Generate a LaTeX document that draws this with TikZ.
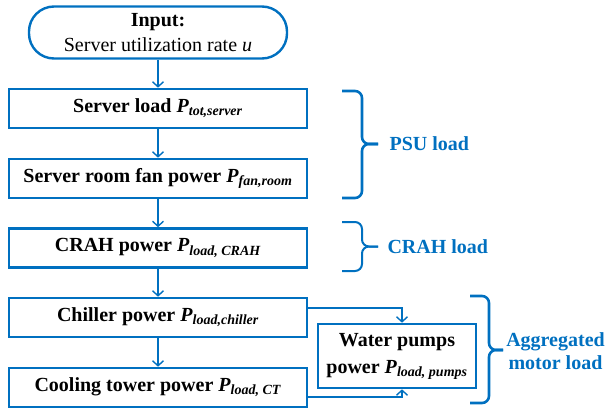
\documentclass[tikz,border=0pt]{standalone}
\usepackage{fontspec}
\setmainfont{Liberation Serif}
\usepackage{xcolor}
\usepackage{tikz}
\usetikzlibrary{arrows.meta}
\definecolor{lineblue}{RGB}{0,112,192}

\begin{document}
\begin{tikzpicture}[x=1pt,y=-1pt,>={Straight Barb[length=5pt,width=11pt]},
  box/.style={draw=lineblue,line width=2.6pt,minimum width=298pt,minimum height=39pt,inner sep=1pt,font=\fontsize{20}{25}\selectfont\bfseries},
  flow/.style={->,draw=lineblue,line width=1.4pt},
  brace/.style={draw=lineblue,line width=2.6pt,rounded corners=7pt},
  tag/.style={text=lineblue,font=\fontsize{20}{23}\selectfont\bfseries,anchor=west}]
  \useasboundingbox (0,0) rectangle (606,410);
  \node[box,rounded corners=25pt,minimum width=258pt,minimum height=52pt,line width=2.4pt,align=center] (input) at (158,32.5) {Input:\\\mdseries Server utilization rate \textit{u}};
  \node[box] (srv) at (158,108.5) {Server load \textit{P}\textsubscript{\textit{tot,server}}};
  \node[box] (fan) at (158,178.5) {Server room fan power \textit{P}\textsubscript{\textit{fan,room}}};
  \node[box] (crah) at (158,248) {CRAH power \textit{P}\textsubscript{\textit{load, CRAH}}};
  \node[box] (chiller) at (158,317.5) {Chiller power \textit{P}\textsubscript{\textit{load,chiller}}};
  \node[box] (ct) at (158,387.5) {Cooling tower power \textit{P}\textsubscript{\textit{load, CT}}};
  \node[box,minimum width=158pt,minimum height=64pt,align=center,font=\fontsize{20}{27}\selectfont\bfseries] (pumps) at (397,356) {Water pumps\\power \textit{P}\textsubscript{\textit{load, pumps}}};
  \draw[flow] (input) -- (srv);
  \draw[flow] (srv) -- (fan);
  \draw[flow] (fan) -- (crah);
  \draw[flow] (crah) -- (chiller);
  \draw[flow] (chiller) -- (ct);
  \draw[flow] ([yshift=9.5pt]chiller.east) -| ([xshift=5pt]pumps.north);
  \draw[flow] ([yshift=-9.5pt]ct.east) -| ([xshift=5pt]pumps.south);
  % braces
  \draw[brace] (342,91) -| (362,144) -- (378,144);
  \draw[brace] (378,144) -- (362,144) |- (342,198);
  \draw[brace,line width=2pt] (342,222) -| (362,246.5) -- (378,246.5);
  \draw[brace,line width=2pt] (378,246.5) -- (362,246.5) |- (342,271);
  \draw[brace] (470,296) -| (489,350) -- (503,350);
  \draw[brace] (503,350) -- (489,350) |- (470,403);
  \node[tag] (psu) at (386,144) {PSU load};
  \node[tag] (crahtag) at (384,247) {CRAH load};
  \node[tag,anchor=center,align=center] (motor) at (555.5,351) {Aggregated\\motor load};
\end{tikzpicture}
\end{document}
